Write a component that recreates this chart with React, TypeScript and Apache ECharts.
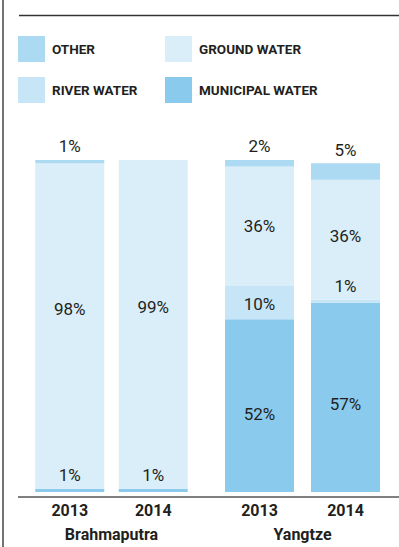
import React, { useEffect, useRef } from "react";
import * as echarts from "echarts";

const years = ["2013", "2014"];
const rivers = ["Brahmaputra", "Yangtze"];
const seriesNames = ["MUNICIPAL WATER", "RIVER WATER", "GROUND WATER", "OTHER"];
// values per river: [2013, 2014]
const municipalWater = [[1, 1], [52, 57]];
const riverWater = [[0, 0], [10, 1]];
const groundWater = [[98, 99], [36, 36]];
const otherWater = [[1, 0], [2, 5]];

const colors: Record<string, string> = {
  "MUNICIPAL WATER": "#8acbed",
  "RIVER WATER": "#c6e5f7",
  "GROUND WATER": "#daeef9",
  OTHER: "#abdaf2",
};

// label vertical nudges for labels drawn inside segments [series][river][year]
const insideOffsets: Record<string, number[][]> = {
  "MUNICIPAL WATER": [[0, 0], [8, 7]],
  "RIVER WATER": [[0, 0], [1, 0]],
  "GROUND WATER": [[-17, -17], [0, -4]],
  OTHER: [[0, 0], [0, 0]],
};

const FONT = "Roboto, 'Noto Sans', sans-serif";
const TEXT = "#231f20";

export default function App() {
  const ref = useRef<HTMLDivElement>(null);
  useEffect(() => {
    if (!ref.current) return;
    const chart = echarts.init(ref.current, null, { renderer: "svg" });
    const valuesBy: Record<string, number[][]> = {
      "MUNICIPAL WATER": municipalWater,
      "RIVER WATER": riverWater,
      "GROUND WATER": groundWater,
      OTHER: otherWater,
    };
    const series: any[] = [];
    rivers.forEach((_, gi) => {
      seriesNames.forEach((name) => {
        series.push({
          type: "bar",
          name,
          xAxisIndex: gi,
          yAxisIndex: gi,
          stack: "s" + gi,
          barWidth: 69,
          itemStyle: { color: colors[name] },
          data: valuesBy[name][gi].map((v, yi) => {
            const above = name === "OTHER" || v < 3;
            return {
              value: v,
              label: {
                show: v > 0,
                position: above ? "top" : "inside",
                distance: 5,
                offset: above ? [0, 0] : [0, insideOffsets[name][gi][yi]],
                formatter: "{c}%",
                fontFamily: FONT,
                fontSize: 17,
                color: TEXT,
              },
            };
          }),
        });
      });
    });

    const axisCommon = (gi: number) => ({
      type: "category",
      gridIndex: gi,
      data: years,
      axisLine: { show: false },
      axisTick: { show: false },
      axisLabel: {
        fontFamily: FONT,
        fontWeight: "bold",
        fontSize: 16,
        color: TEXT,
        margin: 10,
      },
      name: rivers[gi],
      nameLocation: "middle",
      nameGap: 34,
      nameTextStyle: {
        fontFamily: FONT,
        fontWeight: "bold",
        fontSize: 16,
        color: TEXT,
      },
    });

    const legendCommon = {
      orient: "vertical",
      top: 36,
      padding: 0,
      itemWidth: 27,
      itemHeight: 26,
      itemGap: 15,
      icon: "rect",
      selectedMode: false,
      textStyle: {
        fontFamily: FONT,
        fontWeight: "bold",
        fontSize: 13.5,
        color: TEXT,
        padding: [0, 0, 0, 2],
      },
    };

    chart.setOption({
      animation: false,
      legend: [
        { ...legendCommon, left: 18, data: ["OTHER", "RIVER WATER"] },
        { ...legendCommon, left: 165, data: ["GROUND WATER", "MUNICIPAL WATER"] },
      ],
      grid: [
        { left: 28, width: 167, top: 156.6, bottom: 50 },
        { left: 216.5, width: 172, top: 156.6, bottom: 50 },
      ],
      xAxis: [axisCommon(0), axisCommon(1)],
      yAxis: [
        { type: "value", gridIndex: 0, min: 0, max: 101, show: false },
        { type: "value", gridIndex: 1, min: 0, max: 101, show: false },
      ],
      graphic: [
        {
          type: "line",
          shape: { x1: 3, y1: 0, x2: 3, y2: 547 },
          style: { stroke: "#444", lineWidth: 1.5 },
        },
        {
          type: "line",
          shape: { x1: 19, y1: 15.5, x2: 399, y2: 15.5 },
          style: { stroke: "#333", lineWidth: 1.5 },
        },
        {
          type: "line",
          z: 10,
          shape: { x1: 18, y1: 497, x2: 399, y2: 497 },
          style: { stroke: "#555", lineWidth: 1.5 },
        },
      ],
      series,
    });
    return () => chart.dispose();
  }, []);
  return (
    <div
      ref={ref}
      style={{ position: "fixed", left: 0, top: 0, width: 399, height: 547, background: "#fff" }}
    />
  );
}
